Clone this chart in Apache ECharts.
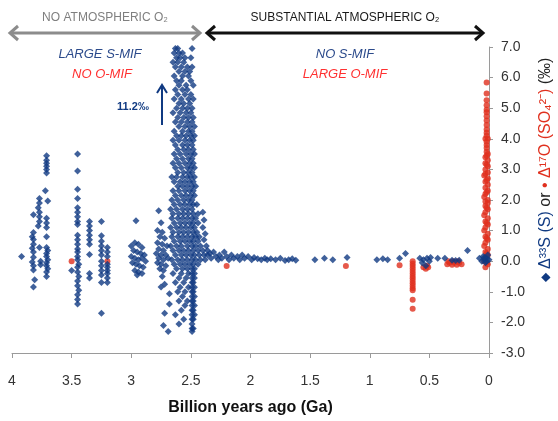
<!DOCTYPE html>
<html>
<head>
<meta charset="utf-8">
<script src="https://cdn.jsdelivr.net/npm/echarts@6/dist/echarts.min.js"></script>
<style>
  html, body { margin: 0; padding: 0; background: #fff; }
  #main { width: 558px; height: 421px; }
</style>
</head>
<body>
<div id="main"></div>
<script>
// 年龄 (Ga) / 数值 (‰)
var xTicks = [4, 3.5, 3, 2.5, 2, 1.5, 1, 0.5, 0];

// Δ33S 太古宙（2.8 Ga 以前）
var s33Archean = [
  [3.92,0.15],
  [3.82,1.52],[3.82,0.94],[3.83,0.8],[3.82,0.71],[3.82,0.55],[3.83,0.42],[3.82,0.3],[3.82,0.13],
  [3.83,-0.03],[3.82,-0.15],[3.82,-0.29],[3.81,-0.61],[3.82,-0.84],
  [3.77,2.05],[3.77,1.9],[3.78,1.75],[3.77,1.6],[3.77,1.45],[3.77,1.3],[3.78,1.15],[3.77,0.45],[3.76,0.0],[3.76,-0.12],
  [3.71,3.45],[3.71,3.3],[3.71,3.2],[3.71,3.1],[3.71,3.0],[3.71,2.88],[3.72,2.3],[3.70,1.97],[3.71,1.4],[3.71,1.25],
  [3.71,1.1],[3.71,0.8],[3.71,0.45],[3.70,0.35],[3.71,0.25],[3.71,0.15],[3.70,0.05],[3.71,-0.05],[3.71,-0.15],
  [3.70,-0.25],[3.71,-0.35],[3.71,-0.5],
  [3.50,-0.3],
  [3.45,3.5],[3.45,2.95],[3.45,2.35],[3.45,2.05],[3.45,1.75],[3.45,1.6],[3.45,1.45],[3.45,1.3],[3.45,1.2],[3.45,0.85],
  [3.45,0.7],[3.45,0.55],[3.45,0.4],[3.45,0.3],[3.45,0.15],[3.45,0.05],[3.44,-0.1],[3.45,-0.2],[3.45,-0.35],[3.44,-0.5],
  [3.45,-0.65],[3.45,-0.8],[3.44,-0.95],[3.45,-1.1],[3.45,-1.25],[3.45,-1.4],
  [3.35,1.3],[3.35,1.15],[3.35,1.0],[3.35,0.85],[3.35,0.7],[3.35,0.55],[3.35,0.22],[3.35,-0.4],[3.35,-0.55],
  [3.25,1.3],[3.25,0.83],[3.25,0.65],[3.25,0.5],[3.25,0.35],[3.25,0.2],[3.25,0.0],[3.25,-0.15],[3.25,-0.3],[3.25,-0.45],
  [3.25,-0.7],[3.25,-1.7],
  [3.20,0.45],[3.20,0.3],[3.20,0.15],[3.20,-0.1],[3.20,-0.2],[3.20,-0.3],[3.20,-0.4],[3.20,-0.55],[3.20,-0.7],
  [2.96,1.32],[3.00,0.5],[2.97,0.6],[2.94,0.55],[2.91,0.45],[2.98,0.35],[2.95,0.3],[2.92,0.25],[2.89,0.2],[3.00,0.15],
  [2.97,0.1],[2.94,0.05],[2.91,0.1],[2.88,0.0],[2.99,-0.05],[2.96,-0.1],[2.93,-0.15],[2.90,-0.2],[2.97,-0.3],[2.94,-0.35],
  [2.91,-0.4],[2.95,-0.45],
  [2.77,1.65],[2.75,1.26],[2.78,1.0],[2.74,0.95],[2.76,0.8],[2.72,0.75],[2.78,0.6],[2.74,0.55],[2.70,0.5],[2.77,0.4],
  [2.73,0.35],[2.79,0.25],[2.75,0.2],[2.71,0.2],[2.77,0.1],[2.73,0.05],[2.69,0.1],[2.78,-0.05],[2.75,-0.1],[2.71,-0.15],
  [2.76,-0.25],[2.73,-0.3],[2.74,-0.5],[2.72,-0.75],[2.75,-0.84],[2.68,-1.06],[2.68,-1.4],[2.72,-1.7],[2.73,-2.1],[2.69,-2.3]
];

// Δ33S 2.45–2.7 Ga 高峰：[数值, 该值上的各个年龄]
var s33PeakRows = [
  [6.95,[2.63,2.61,2.49]], [6.8,[2.64,2.60,2.57]], [6.65,[2.62,2.59,2.55,2.50]], [6.5,[2.65,2.61,2.56]],
  [6.35,[2.63,2.58,2.53,2.49]], [6.2,[2.60,2.55,2.51]], [6.05,[2.64,2.57,2.52]], [5.9,[2.62,2.58,2.50]],
  [5.75,[2.60,2.54,2.48]], [5.6,[2.63,2.57,2.53]], [5.45,[2.61,2.55,2.50]], [5.3,[2.64,2.58,2.52,2.48]],
  [5.15,[2.60,2.56,2.51]], [5.0,[2.62,2.57,2.53,2.49]], [4.85,[2.65,2.59,2.54,2.50]], [4.7,[2.61,2.56,2.52,2.48]],
  [4.55,[2.63,2.58,2.53,2.49]], [4.4,[2.60,2.55,2.51,2.47]], [4.25,[2.64,2.57,2.52,2.49]], [4.1,[2.62,2.58,2.54,2.50,2.47]],
  [3.95,[2.65,2.60,2.55,2.51,2.48]], [3.8,[2.63,2.57,2.53,2.49]], [3.65,[2.61,2.56,2.52,2.48]], [3.5,[2.64,2.59,2.54,2.50,2.47]],
  [3.35,[2.62,2.57,2.52,2.49]], [3.2,[2.65,2.60,2.55,2.51,2.48]], [3.05,[2.63,2.58,2.53,2.50,2.47]], [2.9,[2.61,2.56,2.52,2.49]],
  [2.75,[2.66,2.62,2.57,2.53,2.50,2.47]], [2.6,[2.64,2.59,2.55,2.51,2.48]], [2.45,[2.61,2.57,2.53,2.49,2.46]],
  [2.3,[2.65,2.60,2.55,2.51,2.48]], [2.15,[2.63,2.58,2.54,2.50,2.47]], [2.0,[2.66,2.61,2.56,2.52,2.49]],
  [1.85,[2.64,2.59,2.55,2.51,2.48,2.45]], [1.7,[2.67,2.62,2.57,2.53,2.49]], [1.55,[2.65,2.60,2.56,2.52,2.48,2.44]],
  [1.4,[2.66,2.61,2.57,2.53,2.49,2.46]], [1.25,[2.64,2.59,2.55,2.51,2.48,2.44]], [1.1,[2.67,2.62,2.58,2.54,2.50,2.47]],
  [0.95,[2.65,2.60,2.56,2.52,2.48,2.45]], [0.8,[2.66,2.61,2.57,2.53,2.49,2.46,2.43]], [0.65,[2.64,2.59,2.55,2.51,2.48,2.44]],
  [0.5,[2.67,2.62,2.58,2.53,2.49,2.46,2.42]], [0.35,[2.65,2.60,2.56,2.52,2.48,2.44,2.40]],
  [0.2,[2.63,2.58,2.54,2.50,2.47,2.43,2.39,2.36]], [0.05,[2.66,2.61,2.57,2.53,2.49,2.46,2.42,2.38]],
  [-0.1,[2.64,2.59,2.55,2.51,2.48,2.44]], [-0.25,[2.62,2.57,2.53,2.49,2.47]], [-0.4,[2.65,2.58,2.52,2.49,2.47]],
  [-0.55,[2.60,2.54,2.49,2.47]], [-0.7,[2.63,2.56,2.49,2.48]], [-0.85,[2.59,2.52,2.49,2.47]], [-1.0,[2.61,2.55,2.49,2.48]],
  [-1.15,[2.57,2.49,2.47]], [-1.3,[2.60,2.53,2.49,2.48]], [-1.45,[2.55,2.49,2.47]], [-1.6,[2.58,2.49,2.48]],
  [-1.75,[2.63,2.49,2.47]], [-1.9,[2.56,2.49,2.48]], [-2.05,[2.60,2.49]], [-2.2,[2.49,2.48]], [-2.3,[2.49]]
];

// Δ33S 2.4 Ga 以后
var s33Later = [
  [2.40,1.6],[2.39,1.35],[2.40,1.1],[2.38,0.9],[2.39,0.7],[2.37,0.5],[2.36,0.35],[2.34,0.25],[2.33,0.1],[2.31,0.3],
  [2.29,0.15],[2.27,0.05],[2.26,0.2],[2.24,0.1],[2.22,0.3],[2.20,0.15],[2.18,0.05],[2.16,0.2],[2.14,0.1],[2.11,0.15],
  [2.09,0.05],[2.07,0.2],[2.05,0.1],[2.02,0.15],[1.99,0.05],[1.97,0.12],[1.94,0.08],[1.91,0.05],[1.88,0.1],[1.86,0.05],
  [1.83,0.08],[1.79,0.05],[1.75,0.1],[1.71,0.02],[1.68,0.05],[1.65,0.08],[1.62,0.03],[1.46,0.05],[1.38,0.1],[1.31,0.05],
  [1.19,0.12],[0.94,0.05],[0.89,0.08],[0.85,0.05],[0.75,0.1],[0.70,0.25],
  [0.58,0.1],[0.56,-0.05],[0.55,0.05],[0.53,-0.15],[0.52,0.1],[0.50,0.0],[0.49,0.12],[0.43,0.1],[0.37,0.1],
  [0.31,0.03],[0.28,0.02],[0.25,0.03],[0.18,0.35],
  [0.08,0.1],[0.06,0.0],[0.05,0.15],[0.04,0.05],[0.03,-0.05],[0.02,0.1],[0.01,0.2],[0.00,0.05],[0.02,0.0],[0.04,0.12]
];

// Δ17O (SO4)
var o17Old = [
  [3.50,0.0],[3.20,0.0],[2.20,-0.16],[1.20,-0.16],[0.75,-0.13],
  [0.64,0.0],[0.64,-0.08],[0.64,-0.16],[0.64,-0.24],[0.64,-0.32],[0.64,-0.4],[0.64,-0.48],[0.64,-0.56],[0.64,-0.64],
  [0.64,-0.72],[0.64,-0.8],[0.64,-0.88],[0.64,-0.95],[0.64,-1.26],[0.64,-1.55],
  [0.55,-0.2],[0.53,-0.25],[0.52,-0.15],[0.51,-0.2],
  [0.35,-0.1],[0.33,-0.05],[0.31,-0.12],[0.29,-0.05],[0.27,-0.12],[0.25,-0.05],[0.23,-0.1],[0.34,0.0],[0.30,0.0],[0.26,0.0]
];
var o17Recent = [
  [0.02,5.84],[0.02,5.48],[0.02,5.26],[0.02,5.1],[0.02,4.95],[0.02,4.87],[0.02,4.74],[0.02,4.6],[0.02,4.45],[0.02,4.3],
  [0.02,4.2],[0.02,4.1],[0.03,4.0],[0.01,4.0],[0.02,3.9],[0.02,3.8],[0.02,3.7],[0.02,3.58],
  [0.01,3.5],[0.03,3.4],[0.01,3.3],[0.03,3.2],[0.01,3.1],[0.03,3.0],[0.01,2.9],[0.03,2.85],[0.04,2.8],[0.01,2.7],
  [0.03,2.6],[0.01,2.5],[0.03,2.4],[0.01,2.3],[0.03,2.2],[0.04,2.1],[0.01,2.0],[0.03,1.95],[0.01,1.9],[0.03,1.8],
  [0.01,1.7],[0.03,1.6],[0.04,1.5],[0.01,1.4],[0.03,1.3],[0.01,1.2],[0.03,1.1],[0.04,1.0],[0.01,0.9],[0.03,0.8],
  [0.01,0.7],[0.03,0.6],[0.04,0.5],[0.01,0.4],[0.03,0.3],[0.01,0.2],[0.03,0.1],[0.04,0.0],[0.01,-0.1],[0.03,-0.2],
  [0.02,3.45],[0.02,3.15],[0.02,2.65],[0.02,2.25],[0.02,1.75],[0.02,1.25],[0.02,0.75],[0.02,0.25],[0.02,-0.05]
];

var blue = '#103a82';
var red = '#e0301e';

var s33Peak = [];
s33PeakRows.forEach(function (row) {
  row[1].forEach(function (age) { s33Peak.push([age, row[0]]); });
});
var s33All = s33Archean.concat(s33Peak, s33Later);
var o17All = o17Old.concat(o17Recent);

var myChart = echarts.init(document.getElementById('main'));
var font = "'Liberation Sans', sans-serif";

var option = {
  animation: false,
  backgroundColor: '#fff',
  grid: { left: 12, right: 69, top: 47, bottom: 64 },
  xAxis: {
    type: 'value',
    inverse: true,
    min: 0,
    max: 4,
    interval: 0.5,
    name: 'Billion years ago (Ga)',
    nameLocation: 'middle',
    nameGap: 47,
    nameTextStyle: { fontFamily: 'Liberation Sans', fontWeight: 'bold', fontSize: 16, color: '#111' },
    axisLine: { onZero: false, lineStyle: { color: '#9a9a9a', width: 1 } },
    axisTick: { length: 5, lineStyle: { color: '#9a9a9a' } },
    axisLabel: {
      margin: 21, fontSize: 14, color: '#333', fontFamily: font,
      formatter: function (v) { return xTicks.indexOf(v) >= 0 ? String(v) : ''; }
    },
    splitLine: { show: false }
  },
  yAxis: {
    type: 'value',
    position: 'right',
    min: -3,
    max: 7,
    interval: 1,
    axisLine: { show: true, onZero: false, lineStyle: { color: '#9a9a9a', width: 1 } },
    axisTick: { show: true, length: 4, lineStyle: { color: '#9a9a9a' } },
    axisLabel: {
      margin: 12, fontSize: 14, color: '#333', fontFamily: font,
      formatter: function (v) { return v.toFixed(1); }
    },
    splitLine: { show: false }
  },
  series: [
    {
      name: 'Δ17O',
      type: 'scatter',
      symbol: 'circle',
      symbolSize: 6,
      itemStyle: { color: red },
      data: o17All
    },
    {
      name: 'Δ33S',
      type: 'scatter',
      symbol: 'diamond',
      symbolSize: 7,
      itemStyle: { color: blue },
      data: s33All
    }
  ],
  graphic: [
    { type: 'text', x: 105, y: 18, style: { text: 'NO ATMOSPHERIC O₂', fill: '#7f7f7f', font: '12px ' + font, align: 'center', verticalAlign: 'middle' } },
    { type: 'line', shape: { x1: 10, y1: 33, x2: 200, y2: 33 }, style: { stroke: '#8c8c8c', lineWidth: 3 } },
    { type: 'polyline', shape: { points: [[18, 26], [10, 33], [18, 40]] }, style: { stroke: '#8c8c8c', lineWidth: 3, fill: null } },
    { type: 'polyline', shape: { points: [[192, 26], [200, 33], [192, 40]] }, style: { stroke: '#8c8c8c', lineWidth: 3, fill: null } },
    { type: 'text', x: 345, y: 18, style: { text: 'SUBSTANTIAL ATMOSPHERIC O₂', fill: '#1a1a1a', font: '12px ' + font, align: 'center', verticalAlign: 'middle' } },
    { type: 'line', shape: { x1: 207, y1: 33, x2: 483, y2: 33 }, style: { stroke: '#111', lineWidth: 3 } },
    { type: 'polyline', shape: { points: [[215, 26], [207, 33], [215, 40]] }, style: { stroke: '#111', lineWidth: 3, fill: null } },
    { type: 'polyline', shape: { points: [[475, 26], [483, 33], [475, 40]] }, style: { stroke: '#111', lineWidth: 3, fill: null } },
    { type: 'text', x: 100, y: 54, style: { text: 'LARGE S-MIF', fill: '#2b4a8b', font: 'italic 13px ' + font, align: 'center', verticalAlign: 'middle' } },
    { type: 'text', x: 102, y: 74, style: { text: 'NO O-MIF', fill: '#ff3030', font: 'italic 13px ' + font, align: 'center', verticalAlign: 'middle' } },
    { type: 'text', x: 345, y: 54, style: { text: 'NO S-MIF', fill: '#2b4a8b', font: 'italic 13px ' + font, align: 'center', verticalAlign: 'middle' } },
    { type: 'text', x: 345, y: 74, style: { text: 'LARGE O-MIF', fill: '#ff3030', font: 'italic 13px ' + font, align: 'center', verticalAlign: 'middle' } },
    { type: 'line', shape: { x1: 162, y1: 125, x2: 162, y2: 86 }, style: { stroke: blue, lineWidth: 2 } },
    { type: 'polyline', shape: { points: [[157, 93], [162, 85], [167, 93]] }, style: { stroke: blue, lineWidth: 2, fill: null } },
    { type: 'text', x: 133, y: 107, style: { text: '11.2‰', fill: blue, font: 'bold 11px ' + font, align: 'center', verticalAlign: 'middle' } },
    {
      type: 'text', x: 546, y: 170, rotation: Math.PI / 2,
      style: {
        text: '{d|◆} {s|Δ³³S (S)} {k|or} {o|• Δ¹⁷O (SO₄²⁻)} {k|(‰)}',
        align: 'center', verticalAlign: 'middle',
        font: '16px Liberation Sans',
        rich: {
          d: { fill: blue, fontSize: 12, fontFamily: 'Liberation Sans' },
          s: { fill: blue, fontSize: 16, fontFamily: 'Liberation Sans' },
          k: { fill: '#222', fontSize: 16, fontFamily: 'Liberation Sans' },
          o: { fill: red, fontSize: 16, fontFamily: 'Liberation Sans' }
        }
      }
    }
  ]
};

myChart.setOption(option);
</script>
</body>
</html>
